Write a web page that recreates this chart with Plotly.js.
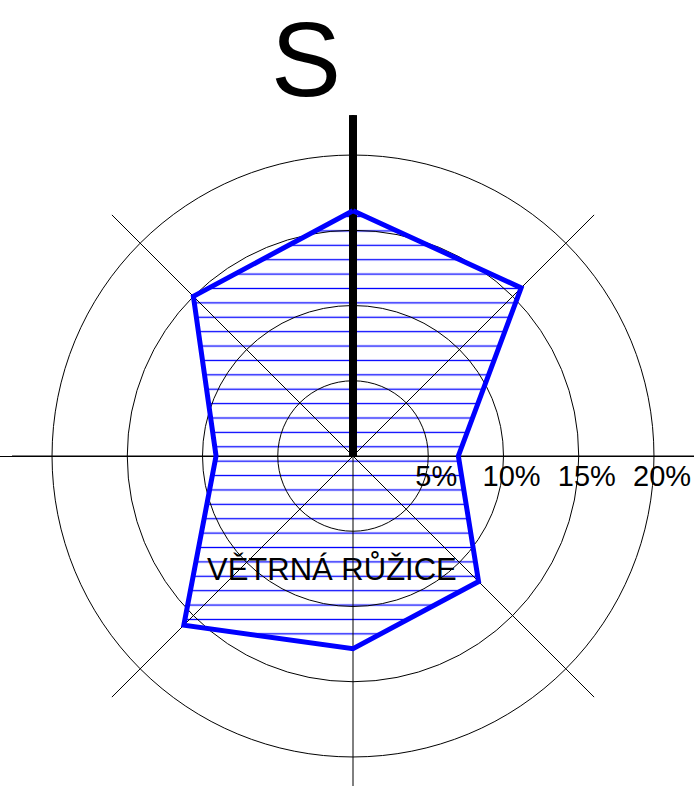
<!DOCTYPE html>
<html>
<head>
<meta charset="utf-8">
<script src="https://cdn.plot.ly/plotly-3.0.1.min.js"></script>
<style>
  html, body { margin: 0; padding: 0; overflow: hidden; background: #fff; }
  #chart { width: 694px; height: 800px; }
</style>
</head>
<body>
<div id="chart"></div>
<script>
// Directions (Czech: S = sever/north, SV, V, JV, J, JZ, Z, SZ)
const directions = ['S', 'SV', 'V', 'JV', 'J', 'JZ', 'Z', 'SZ'];
const directionAngles = [0, 45, 90, 135, 180, 225, 270, 315];
// Wind frequency per direction, %
const frequency = [16.3, 15.8, 7.0, 11.8, 12.8, 15.9, 9.1, 15.0];
// Ring values and their labels
const ringValues = [5, 10, 15, 20];
const ringLabels = ['5%', '10%', '15%', '20%'];
// Extent of the radial axis and the north marker, %
const radialMax = 22.66;
const northMarker = [0, 22.66];
const chartTitle = 'S';
const roseLabel = 'VĚTRNÁ RŮŽICE';

const closedR = frequency.concat([frequency[0]]);
const closedTheta = directionAngles.concat([directionAngles[0]]);
const deg = Math.PI / 180;
// same polygon expressed on the cartesian overlay (for the hatched fill)
const hatchX = closedR.map((r, i) => r * Math.sin(closedTheta[i] * deg));
const hatchY = closedR.map((r, i) => r * Math.cos(closedTheta[i] * deg));
const NBSP = '\u00a0';

// geometry (layout, pixels)
const W = 694, H = 800;
const mL = 0, mR = 0, mT = 115, mB = 3;
const plotH = H - mT - mB;            // 682
const polarLeft = 12;                 // polar box starts 12px from left
const pxPerUnit = (plotH / 2) / radialMax;
const centerX = polarLeft + plotH / 2;
const hatchPhase = 8;                 // px shift of the hatch pattern origin

const traces = [
  // hatched fill on cartesian overlay
  {
    type: 'scatter', mode: 'none',
    x: hatchX, y: hatchY,
    fill: 'toself',
    fillcolor: 'rgba(0,0,0,0)',
    fillpattern: {shape: '-', fgcolor: '#0000ff', bgcolor: 'rgba(0,0,0,0)', size: 14.39, solidity: 0.09, fillmode: 'replace'},
    showlegend: false, hoverinfo: 'skip'
  },
  // north marker
  {
    type: 'scatterpolar', mode: 'lines',
    r: northMarker, theta: [directionAngles[0], directionAngles[0]],
    line: {color: '#000', width: 8},
    showlegend: false, hoverinfo: 'skip'
  },
  // outline
  {
    type: 'scatterpolar', mode: 'lines',
    r: closedR, theta: closedTheta, text: directions.concat([directions[0]]),
    line: {color: '#0000ff', width: 5},
    showlegend: false, hoverinfo: 'skip'
  }
];

const layout = {
  width: W, height: H,
  margin: {l: mL, r: mR, t: mT, b: mB},
  paper_bgcolor: '#fff',
  plot_bgcolor: 'rgba(0,0,0,0)',
  showlegend: false,
  font: {family: 'Liberation Sans, Arial, sans-serif', color: '#000'},
  title: {
    text: chartTitle,
    font: {size: 105, color: '#000', family: 'Liberation Sans, Arial, sans-serif'},
    x: 306 / W, xanchor: 'center', xref: 'container',
    y: 1 - 59 / H, yanchor: 'middle', yref: 'container'
  },
  xaxis: {
    domain: [0, 1],
    range: [-centerX / pxPerUnit, (W - centerX) / pxPerUnit],
    showgrid: false, zeroline: false, showticklabels: false, ticks: '', showline: false
  },
  yaxis: {
    domain: [0, (plotH - hatchPhase) / plotH],
    range: [-radialMax, radialMax - hatchPhase / pxPerUnit],
    showgrid: false, zeroline: true, zerolinecolor: '#000', zerolinewidth: 1,
    showticklabels: false, ticks: '', showline: false
  },
  polar: {
    domain: {x: [polarLeft / W, 1], y: [0, 1]},
    bgcolor: 'rgba(0,0,0,0)',
    radialaxis: {
      range: [0, radialMax],
      angle: 0,
      side: 'clockwise',
      tickangle: 0,
      tickmode: 'array',
      tickvals: ringValues,
      ticktext: ringLabels.map(t => NBSP + NBSP + t),
      tickfont: {size: 29, color: '#000'},
      showline: false,
      ticks: '',
      showgrid: true, gridcolor: '#000', gridwidth: 1
    },
    angularaxis: {
      thetaunit: 'degrees',
      rotation: 90, direction: 'clockwise',
      tickmode: 'array', tickvals: directionAngles,
      showticklabels: false, ticks: '',
      showline: false,
      showgrid: true, gridcolor: '#000', gridwidth: 1
    }
  },
  annotations: [{
    text: roseLabel, showarrow: false,
    xref: 'paper', yref: 'paper',
    x: (332 - mL) / (W - mL - mR), y: (H - mB - 569) / plotH,
    xanchor: 'center', yanchor: 'middle',
    font: {size: 31, color: '#000'}
  }]
};

Plotly.newPlot('chart', traces, layout, {staticPlot: true, displayModeBar: false});
</script>
</body>
</html>
